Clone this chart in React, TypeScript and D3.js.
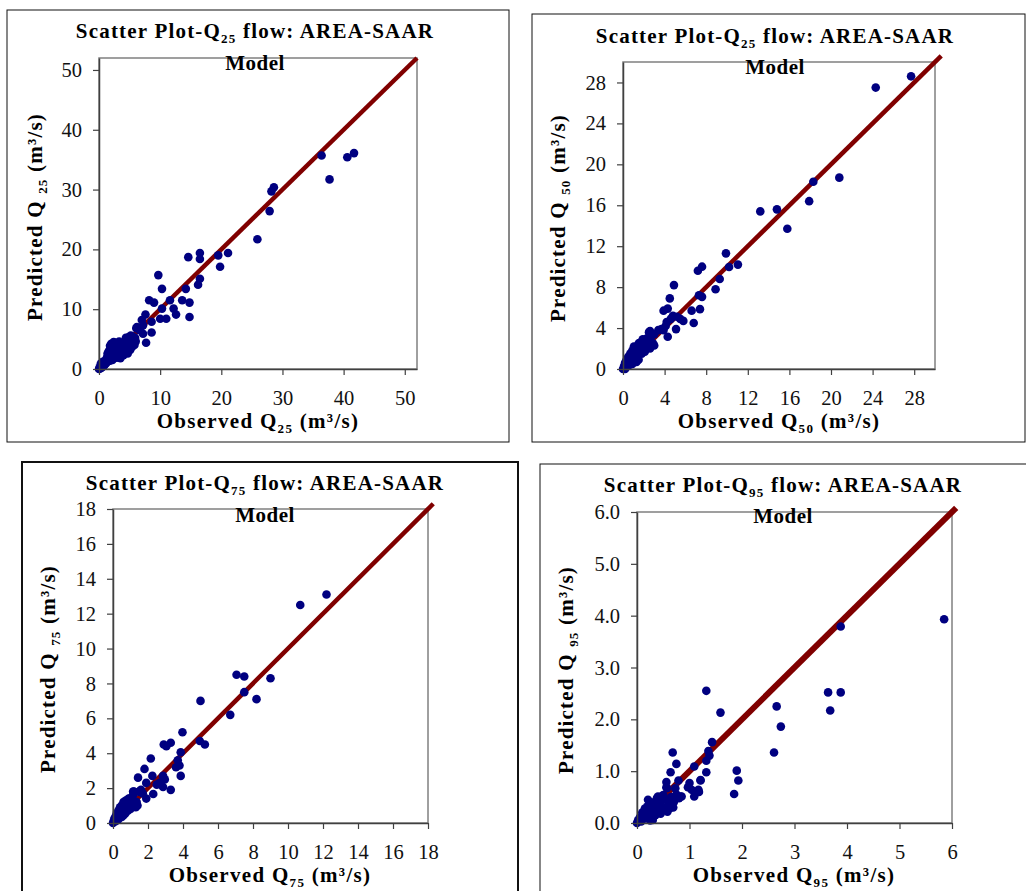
import React, { useEffect, useRef } from 'react';
import * as d3 from 'd3';

type Pt = [number, number];

// observed, predicted (m3/s)
const q25Points: Pt[] = [
  [36.4, 35.7], [40.6, 35.4], [41.7, 36.1], [37.7, 31.7], [28.6, 30.4], [28.2, 29.7], [27.9, 26.4],
  [25.9, 21.7], [21.1, 19.4], [19.5, 19.0], [19.8, 17.1], [16.5, 19.4], [16.5, 18.4], [14.6, 18.7],
  [16.5, 15.1], [16.2, 14.1], [9.7, 15.7], [10.3, 13.4], [14.2, 13.4], [13.6, 11.5], [14.8, 11.1],
  [14.8, 8.7], [11.6, 11.5], [12.2, 10.1], [12.6, 9.1], [8.2, 11.5], [9.0, 11.1], [10.3, 10.1],
  [10.0, 8.4], [11.0, 8.4], [7.6, 9.1], [8.6, 7.9], [8.6, 6.1], [7.7, 4.4], [7.0, 8.2], [6.1, 6.8],
  [7.2, 5.9], [5.9, 4.8], [6.7, 6.5], [7.2, 7.3], [6.2, 7.0],
  [0, 0], [0.1, 0.3], [0.2, 0.1], [0.3, 0.5], [0.4, 0.2], [0.5, 0.8], [0.6, 0.4], [0.7, 1.0],
  [0.8, 0.6], [0.9, 1.2], [1.0, 0.8], [0.3, 0.9], [0.6, 1.2],
  [1.1, 1.5], [1.2, 1.0], [1.3, 1.9], [1.4, 1.3], [1.5, 2.3], [1.6, 1.6], [1.7, 2.8], [1.8, 1.4],
  [1.9, 3.4], [2.0, 2.0], [1.8, 3.9], [2.0, 4.2], [1.6, 3.0], [1.4, 2.6],
  [2.1, 2.6], [2.2, 3.2], [2.3, 1.8], [2.4, 3.8], [2.5, 2.3], [2.6, 4.4], [2.7, 2.9], [2.8, 3.5],
  [2.9, 1.9], [3.0, 4.1], [2.4, 4.5], [2.8, 4.3], [2.2, 1.5],
  [3.1, 2.5], [3.2, 3.1], [3.3, 4.6], [3.4, 2.0], [3.5, 3.7], [3.6, 4.3], [3.7, 2.6], [3.8, 3.3],
  [3.9, 4.0], [4.0, 2.3], [3.5, 1.8], [3.2, 4.0],
  [4.1, 3.0], [4.2, 4.5], [4.3, 3.6], [4.4, 2.8], [4.5, 4.9], [4.6, 3.4], [4.7, 4.2], [4.8, 5.3],
  [4.9, 3.8], [5.0, 4.6], [4.4, 5.2], [4.7, 2.6],
  [5.1, 3.2], [5.2, 5.0], [5.3, 4.3], [5.4, 3.7], [5.5, 5.4], [5.6, 4.8], [5.8, 4.0], [5.9, 5.2],
  [6.0, 4.6], [5.2, 5.6],
];

const q50Points: Pt[] = [
  [27.7, 28.6], [24.3, 27.5], [20.8, 18.7], [18.3, 18.3], [17.9, 16.4], [15.8, 13.7], [14.8, 15.6],
  [13.2, 15.4], [11.05, 10.2], [10.2, 9.97], [9.9, 11.3], [9.3, 8.8], [8.9, 7.8], [7.6, 10.0],
  [7.2, 9.6], [7.6, 7.05], [7.3, 7.2], [7.4, 5.85], [6.8, 4.5], [6.6, 5.7],
  [4.3, 5.9], [3.9, 5.7], [4.5, 6.9], [4.9, 8.2], [5.2, 5.1], [5.8, 4.7], [4.8, 5.2], [4.2, 4.6],
  [5.1, 3.9], [4.3, 3.15], [3.9, 3.8], [3.4, 3.8], [4.1, 4.2], [2.6, 3.7], [2.9, 2.5], [5.5, 4.9],
  [4.6, 4.9], [3.7, 3.9],
  [0, 0], [0.1, 0.3], [0.15, 0.1], [0.2, 0.6], [0.3, 0.2], [0.35, 0.9], [0.4, 0.4], [0.5, 1.2],
  [0.55, 0.6], [0.6, 0.9], [0.7, 1.5], [0.75, 0.7], [0.8, 1.1], [0.9, 1.8], [0.95, 0.9], [1.0, 1.4],
  [1.05, 2.2], [1.1, 1.0], [1.2, 1.7], [1.3, 2.1], [1.35, 1.2], [1.5, 2.5], [1.5, 0.9], [1.6, 1.9],
  [1.7, 2.6], [1.8, 1.5], [1.9, 2.9], [2.0, 2.2], [2.1, 1.7], [2.2, 2.8], [2.3, 3.0], [2.4, 2.3],
  [2.5, 3.6], [2.6, 2.0], [2.7, 3.2], [2.8, 2.5], [3.0, 3.4], [3.0, 2.3], [0.9, 0.5], [0.5, 0.3],
  [1.3, 0.7], [0.2, 0.0],
];

const q75Points: Pt[] = [
  [12.2, 13.1], [10.7, 12.5], [9.0, 8.3], [7.06, 8.5], [7.5, 8.4], [7.5, 7.5], [8.2, 7.1], [6.7, 6.2],
  [5.0, 7.0], [4.96, 4.7], [5.25, 4.5], [3.97, 5.2], [3.87, 4.06], [3.8, 3.3], [3.6, 3.2], [3.87, 2.7],
  [3.7, 3.6], [3.3, 4.6], [3.05, 4.4], [2.9, 4.5], [2.16, 3.7], [1.8, 3.1], [2.25, 2.7], [1.43, 2.6],
  [1.9, 2.3], [1.9, 1.4], [2.3, 1.66], [3.3, 1.9], [2.86, 2.7], [2.96, 2.5], [2.86, 2.06], [2.5, 2.2],
  [2.67, 2.3], [1.15, 1.8], [1.5, 1.8], [1.24, 1.05], [0.95, 1.4],
  [0, 0], [0.05, 0.15], [0.1, 0.3], [0.15, 0.1], [0.2, 0.5], [0.25, 0.3], [0.3, 0.7], [0.35, 0.4],
  [0.4, 0.9], [0.45, 0.5], [0.5, 1.0], [0.55, 0.6], [0.6, 1.2], [0.65, 0.8], [0.7, 0.55], [0.75, 1.3],
  [0.8, 0.9], [0.85, 0.7], [0.9, 1.4], [0.95, 1.1], [1.0, 0.8], [1.05, 1.3], [1.1, 1.0], [1.15, 1.6],
  [1.2, 1.8], [1.25, 1.1], [1.3, 0.9], [1.35, 1.2], [1.4, 1.0], [1.5, 1.8], [1.6, 1.9], [1.7, 1.7],
  [0.3, 0.2], [0.5, 0.35], [0.6, 0.45],
];

const q95Points: Pt[] = [
  [5.85, 3.93], [3.88, 3.79], [3.64, 2.52], [3.88, 2.52], [3.68, 2.17], [2.66, 2.25], [2.74, 1.86],
  [2.61, 1.36], [1.32, 2.55], [1.59, 2.13], [1.43, 1.56], [1.36, 1.39], [1.32, 1.2], [1.32, 0.98],
  [1.9, 1.01], [1.93, 0.82], [1.85, 0.56], [1.09, 1.09], [1.21, 0.82], [1.18, 0.6], [1.09, 0.51],
  [1.0, 0.77], [0.97, 0.69], [1.04, 0.64], [0.68, 1.36], [0.75, 1.14], [0.64, 0.98], [0.56, 0.79],
  [0.56, 0.69], [0.79, 0.82], [0.73, 0.67], [0.83, 0.51], [0.69, 0.3], [1.11, 0.6], [1.17, 0.64],
  [1.21, 0.83], [1.38, 1.3],
  [0, 0], [0.02, 0.05], [0.05, 0.1], [0.08, 0.03], [0.1, 0.2], [0.12, 0.08], [0.15, 0.28],
  [0.18, 0.12], [0.2, 0.32], [0.22, 0.18], [0.25, 0.38], [0.28, 0.1], [0.3, 0.25], [0.32, 0.4],
  [0.35, 0.15], [0.38, 0.48], [0.4, 0.28], [0.42, 0.2], [0.45, 0.4], [0.48, 0.52], [0.5, 0.3],
  [0.55, 0.45], [0.58, 0.22], [0.6, 0.35], [0.62, 0.28], [0.65, 0.5], [0.7, 0.4], [0.75, 0.55],
  [0.8, 0.48], [0.3, 0.06], [0.15, 0.15], [0.25, 0.05], [0.45, 0.18], [0.57, 0.67], [0.85, 0.51],
  [0.5, 0.54], [0.6, 0.28], [0.21, 0.45], [0.4, 0.51],
];

const titleSubs = ['25', '25', '75', '95'];
const axisSubs = ['25', '50', '75', '95'];
const axisMax = [52, 30, 18, 6];
const tickSets = [
  [0, 10, 20, 30, 40, 50],
  [0, 4, 8, 12, 16, 20, 24, 28],
  [0, 2, 4, 6, 8, 10, 12, 14, 16, 18],
  [0, 1, 2, 3, 4, 5, 6],
];
const yTickFormats = ['d', 'd', 'd', '.1f'];
const lineEnds = [52, 30.6, 18.3, 6.08]; // 1:1 line

const allPoints = [q25Points, q50Points, q75Points, q95Points];

// panel placement on the page
const layouts = [
  { box: [7, 10, 502, 432], bw: 1, plot: [99, 58, 417, 369], titleX: 255, titleY: 38, modelY: 70, yLabX: 42, yLabY: 217, xLabX: 258, xLabY: 428, lw: 4.5 },
  { box: [532, 14, 493, 428], bw: 1, plot: [623, 62, 935, 369], titleX: 775, titleY: 43, modelY: 74, yLabX: 565, yLabY: 218, xLabX: 779, xLabY: 428, lw: 4.5 },
  { box: [22, 462, 496, 440], bw: 2, plot: [113, 509, 428, 823], titleX: 265, titleY: 490, modelY: 522, yLabX: 55, yLabY: 669, xLabX: 270, xLabY: 882, lw: 4.5 },
  { box: [540, 464, 490, 440], bw: 1, plot: [637, 512, 952, 823], titleX: 783, titleY: 492, modelY: 523, yLabX: 573, yLabY: 670, xLabX: 794, xLabY: 882, lw: 6 },
];

const FONT = '"Liberation Serif", "Times New Roman", serif';

// text with subscript parts: [text, isSub]
const richText = (g: any, parts: [string, boolean][], size: number) => {
  let shifted = false;
  parts.forEach(([t, sub]) => {
    const ts = g.append('tspan').text(t);
    if (sub && !shifted) {
      ts.attr('font-size', size * 0.62).attr('dy', size * 0.25);
      shifted = true;
    } else if (!sub && shifted) {
      ts.attr('dy', -size * 0.25);
      shifted = false;
    }
  });
};

const App = () => {
  const ref = useRef<SVGSVGElement>(null);

  useEffect(() => {
    const svg = d3.select(ref.current);
    svg.selectAll('*').remove();

    layouts.forEach((L, i) => {
      const [l, t, r, b] = L.plot;
      const x = d3.scaleLinear().domain([0, axisMax[i]]).range([l, r]);
      const y = d3.scaleLinear().domain([0, axisMax[i]]).range([b, t]);
      const g = svg.append('g');

      g.append('rect')
        .attr('x', L.box[0]).attr('y', L.box[1])
        .attr('width', L.box[2]).attr('height', L.box[3])
        .attr('fill', 'white').attr('stroke', '#111').attr('stroke-width', L.bw);

      g.append('rect')
        .attr('x', l).attr('y', t).attr('width', r - l).attr('height', b - t)
        .attr('fill', 'white').attr('stroke', '#808080').attr('stroke-width', 1.5);

      g.append('line')
        .attr('x1', x(0)).attr('y1', y(0))
        .attr('x2', x(lineEnds[i])).attr('y2', y(lineEnds[i]))
        .attr('stroke', '#800000').attr('stroke-width', L.lw);

      g.selectAll('circle.pt')
        .data(allPoints[i])
        .enter().append('circle')
        .attr('class', 'pt')
        .attr('cx', d => x(d[0]))
        .attr('cy', d => y(d[1]))
        .attr('r', 4.3)
        .attr('fill', '#000080');

      const xAxis = g.append('g')
        .attr('transform', `translate(0,${b})`)
        .call(d3.axisBottom(x).tickValues(tickSets[i]).tickFormat(d3.format('d')).tickSize(6).tickSizeOuter(0).tickPadding(15));
      const yAxis = g.append('g')
        .attr('transform', `translate(${l},0)`)
        .call(d3.axisLeft(y).tickValues(tickSets[i]).tickFormat(d3.format(yTickFormats[i])).tickSize(6).tickSizeOuter(0).tickPadding(11));
      [xAxis, yAxis].forEach(ax => {
        ax.select('.domain').attr('stroke', '#404040').attr('stroke-width', 1.5);
        ax.selectAll('.tick line').attr('stroke', '#404040').attr('stroke-width', 1.2);
        ax.selectAll('text').attr('font-family', FONT).attr('font-size', 20.5).attr('fill', '#111');
      });

      const title = g.append('text')
        .attr('x', L.titleX).attr('y', L.titleY)
        .attr('text-anchor', 'middle')
        .attr('font-family', FONT).attr('font-weight', 'bold').attr('font-size', 21)
        .attr('letter-spacing', 1.2);
      richText(title, [['Scatter Plot-Q', false], [titleSubs[i], true], [' flow: AREA-SAAR', false]], 21);

      g.append('text')
        .attr('x', L.titleX).attr('y', L.modelY)
        .attr('text-anchor', 'middle')
        .attr('font-family', FONT).attr('font-weight', 'bold').attr('font-size', 21)
        .attr('letter-spacing', 0.5)
        .text('Model');

      const xl = g.append('text')
        .attr('x', L.xLabX).attr('y', L.xLabY)
        .attr('text-anchor', 'middle')
        .attr('font-family', FONT).attr('font-weight', 'bold').attr('font-size', 21)
        .attr('letter-spacing', 1.3);
      richText(xl, [['Observed Q', false], [axisSubs[i], true], [' (m³/s)', false]], 21);

      const yl = g.append('text')
        .attr('transform', `translate(${L.yLabX},${L.yLabY}) rotate(-90)`)
        .attr('text-anchor', 'middle')
        .attr('font-family', FONT).attr('font-weight', 'bold').attr('font-size', 21)
        .attr('letter-spacing', 1.2);
      richText(yl, [['Predicted Q ', false], [axisSubs[i], true], [' (m³/s)', false]], 21);
    });
  }, []);

  return (
    <svg
      ref={ref}
      width={1026}
      height={891}
      style={{ position: 'absolute', left: 0, top: 0, background: 'white' }}
    />
  );
};

export default App;
